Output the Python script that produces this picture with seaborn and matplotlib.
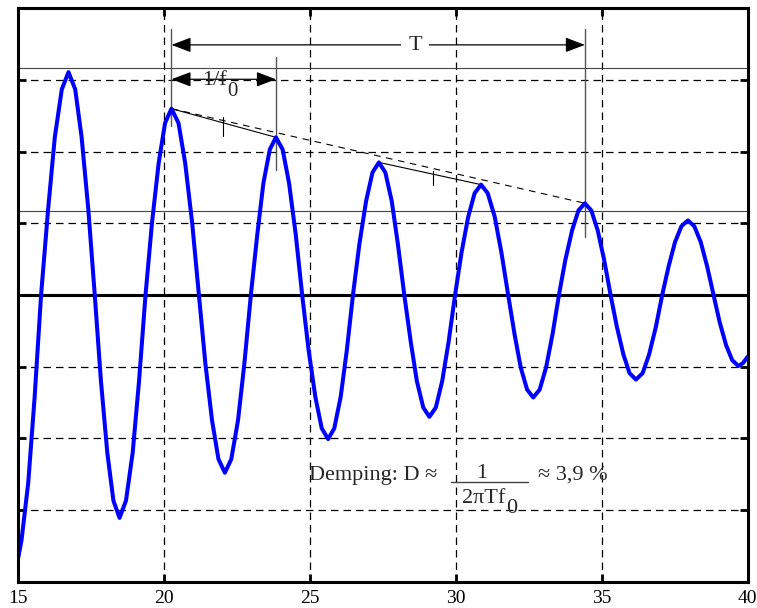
import matplotlib
matplotlib.use("Agg")
import matplotlib.pyplot as plt
import seaborn as sns
import pandas as pd

# signal
t_vals = [15.00, 15.11, 15.34, 15.56, 15.78, 16.02, 16.25, 16.49, 16.72, 16.95,
          17.17, 17.40, 17.62, 17.83, 18.05, 18.26, 18.47, 18.69, 18.92, 19.14,
          19.36, 19.58, 19.81, 20.03, 20.25, 20.49, 20.72, 20.96, 21.19, 21.41,
          21.64, 21.86, 22.08, 22.30, 22.53, 22.75, 22.97, 23.19, 23.40, 23.62,
          23.83, 24.06, 24.28, 24.51, 24.73, 24.95, 25.18, 25.40, 25.62, 25.83,
          26.05, 26.26, 26.47, 26.69, 26.92, 27.14, 27.36, 27.58, 27.80, 28.01,
          28.23, 28.45, 28.66, 28.88, 29.09, 29.31, 29.53, 29.75, 29.97, 30.19,
          30.42, 30.64, 30.86, 31.09, 31.33, 31.56, 31.79, 32.01, 32.22, 32.44,
          32.65, 32.87, 33.09, 33.31, 33.53, 33.75, 33.98, 34.20, 34.42, 34.64,
          34.86, 35.08, 35.30, 35.52, 35.74, 35.95, 36.17, 36.40, 36.62, 36.85,
          37.07, 37.29, 37.51, 37.73, 37.95, 38.17, 38.39, 38.61, 38.83, 39.04,
          39.26, 39.47, 39.68, 39.84, 40.00]
y_vals = [-3.66, -3.42, -2.62, -1.42, 0.00, 1.19, 2.20, 2.87, 3.11, 2.87,
          2.20, 1.19, 0.00, -1.19, -2.20, -2.87, -3.11, -2.87, -2.20, -1.19,
          0.00, 1.00, 1.84, 2.40, 2.60, 2.40, 1.84, 1.00, 0.00, -0.95,
          -1.75, -2.29, -2.48, -2.29, -1.75, -0.95, 0.00, 0.84, 1.56, 2.03,
          2.20, 2.03, 1.56, 0.84, 0.00, -0.77, -1.42, -1.86, -2.01, -1.86,
          -1.42, -0.77, 0.00, 0.71, 1.31, 1.71, 1.85, 1.71, 1.31, 0.71,
          0.00, -0.65, -1.20, -1.57, -1.70, -1.57, -1.20, -0.65, 0.00, 0.59,
          1.09, 1.42, 1.54, 1.42, 1.09, 0.59, 0.00, -0.55, -1.01, -1.32,
          -1.43, -1.32, -1.01, -0.55, 0.00, 0.49, 0.90, 1.18, 1.28, 1.18,
          0.90, 0.49, 0.00, -0.45, -0.83, -1.09, -1.18, -1.09, -0.83, -0.45,
          0.00, 0.40, 0.74, 0.96, 1.04, 0.96, 0.74, 0.40, 0.00, -0.38,
          -0.70, -0.91, -0.99, -0.95, -0.86]

# peaks used for the construction
peak_t = [20.25, 23.83, 27.36, 30.86, 34.42]
peak_y = [2.60, 2.20, 1.85, 1.54, 1.28]
level_lines = [3.17, 1.17]
x_ticks = [15, 20, 25, 30, 35, 40]

df = pd.DataFrame({"t": t_vals, "y": y_vals})

sns.set_theme(style="white")
plt.rcParams["font.family"] = ["Liberation Serif", "DejaVu Serif"]

fig = plt.figure(figsize=(7.57, 6.08), dpi=100)
ax = fig.add_axes([0.0242, 0.0433, 0.9635, 0.943])

# grid
for xv in x_ticks[1:-1]:
    ax.axvline(xv, color="black", lw=0.9, dashes=(6, 4), zorder=1)
for yv in [-3, -2, -1, 1, 2, 3]:
    ax.axhline(yv, color="black", lw=0.9, dashes=(6, 4), zorder=1)
ax.axhline(0, color="black", lw=2.2, zorder=2)
for lv in level_lines:
    ax.axhline(lv, color="#444444", lw=0.8, zorder=2)

sns.lineplot(data=df, x="t", y="y", sort=False, estimator=None,
             color="#0000ff", lw=2.9, ax=ax, zorder=4)

# decay line between peaks
ax.plot([peak_t[0], peak_t[-1]], [peak_y[0], peak_y[-1]], color="black",
        lw=0.8, dashes=(6, 5), zorder=3)
ax.plot(peak_t[0:2], peak_y[0:2], color="black", lw=0.8, zorder=3)
ax.plot(peak_t[2:4], peak_y[2:4], color="black", lw=0.8, zorder=3)
ax.plot([22.0, 22.0], [2.22, 2.48], color="black", lw=0.8, zorder=3)
ax.plot([29.2, 29.2], [1.54, 1.73], color="black", lw=0.8, zorder=3)

# dimension lines
ax.plot([peak_t[0], peak_t[0]], [2.36, 3.71], color="#555555", lw=1.0, zorder=3)
ax.plot([peak_t[1], peak_t[1]], [1.75, 3.32], color="#555555", lw=1.0, zorder=3)
ax.plot([peak_t[4], peak_t[4]], [0.81, 3.71], color="#555555", lw=1.0, zorder=3)

arrow = dict(arrowstyle="<|-|>,head_length=1.0,head_width=0.38",
             color="black", lw=0.9, shrinkA=0, shrinkB=0, mutation_scale=12)
ax.annotate("", xy=(peak_t[4], 3.49), xytext=(peak_t[0], 3.49),
            arrowprops=arrow, zorder=5)
ax.text(28.6, 3.42, "T", fontsize=16, ha="center", va="baseline",
        bbox=dict(facecolor="white", edgecolor="none", pad=5), zorder=6)

ax.annotate("", xy=(peak_t[1], 3.01), xytext=(peak_t[0], 3.01),
            arrowprops=arrow, zorder=5)
ax.text(21.3, 2.93, "1/f", fontsize=16, ha="left", va="baseline", zorder=6)
ax.text(22.17, 2.77, "0", fontsize=15, ha="left", va="baseline", zorder=6)

# damping formula
ax.text(24.97, -2.58, "Demping: D ≈", fontsize=16, ha="left", va="baseline")
ax.plot([29.82, 32.48], [-2.61, -2.61], color="#444444", lw=1.0)
ax.text(30.88, -2.56, "1", fontsize=16, ha="center", va="baseline")
ax.text(30.2, -2.90, "2πTf", fontsize=16, ha="left", va="baseline")
ax.text(31.72, -3.04, "0", fontsize=16, ha="left", va="baseline")
ax.text(32.81, -2.58, "≈ 3,9 %", fontsize=16, ha="left", va="baseline")

ax.set_xlim(15, 40)
ax.set_ylim(-4, 4)
ax.set_xticks(x_ticks)
ax.set_xticklabels([str(v) for v in x_ticks])
ax.set_yticks([-3, -2, -1, 0, 1, 2, 3])
ax.set_yticklabels([])
ax.set_xlabel("")
ax.set_ylabel("")
ax.tick_params(direction="in", length=6, width=2, top=True, right=True,
               bottom=True, left=True, labelsize=14, pad=6, colors="black")
for s in ax.spines.values():
    s.set_linewidth(2.2)
    s.set_color("black")
    s.set_zorder(7)

fig.savefig("out.png", dpi=100)
